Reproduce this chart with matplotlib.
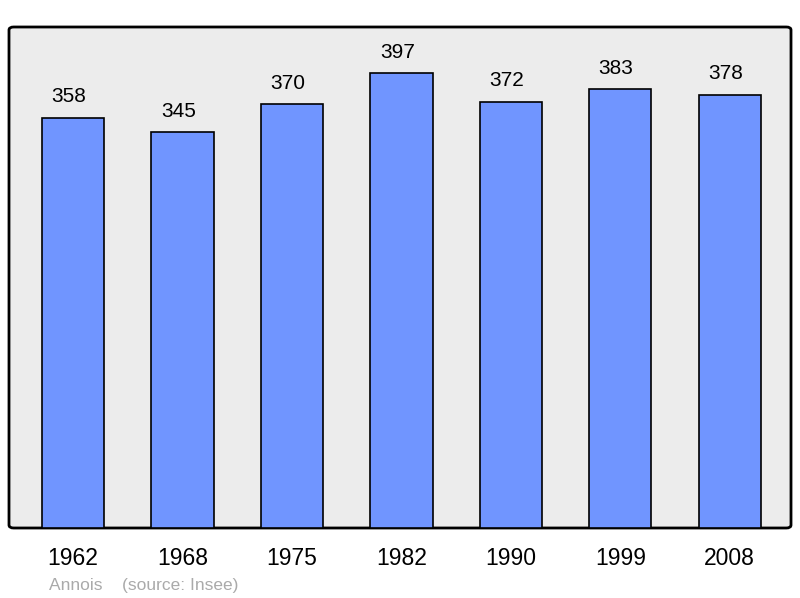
import matplotlib.pyplot as plt
from matplotlib.patches import FancyBboxPatch

years = ['1962', '1968', '1975', '1982', '1990', '1999', '2008']
population = [358, 345, 370, 397, 372, 383, 378]

plt.rcParams['font.family'] = ['Liberation Sans', 'DejaVu Sans']

fig = plt.figure(figsize=(8, 5.98), dpi=100)
ax = fig.add_axes([9 / 800, 1 - 528 / 598, 782 / 800, 501 / 598])
ax.set_facecolor('none')

# rounded grey frame behind the bars
frame = FancyBboxPatch((0, 0), 1, 1, boxstyle='round,pad=0,rounding_size=0.006',
                       transform=ax.transAxes, facecolor='#ececec', edgecolor='black',
                       linewidth=2, clip_on=False, zorder=0)
ax.add_patch(frame)

x = range(len(years))
bars = ax.bar(x, population, width=0.57, color='#7095ff', edgecolor='black',
              linewidth=1.2, zorder=2)
for xi, v in zip(x, population):
    ax.annotate(str(v), (xi, v), xytext=(-3, 11), textcoords='offset points',
                ha='center', va='baseline', fontsize=15, color='black')

ax.set_xlim(-0.585, 6.56)
ax.set_ylim(0, 437)
ax.set_xticks(list(x))
ax.set_xticklabels(years, fontsize=16.5)
ax.tick_params(axis='x', length=0, pad=14)
ax.set_yticks([])
for s in ax.spines.values():
    s.set_visible(False)

fig.text(49 / 800, 1 - 590 / 598, 'Annois    (source: Insee)', fontsize=12.5,
         color='#aaaaaa', ha='left', va='baseline')

fig.savefig('out.png', dpi=100)
